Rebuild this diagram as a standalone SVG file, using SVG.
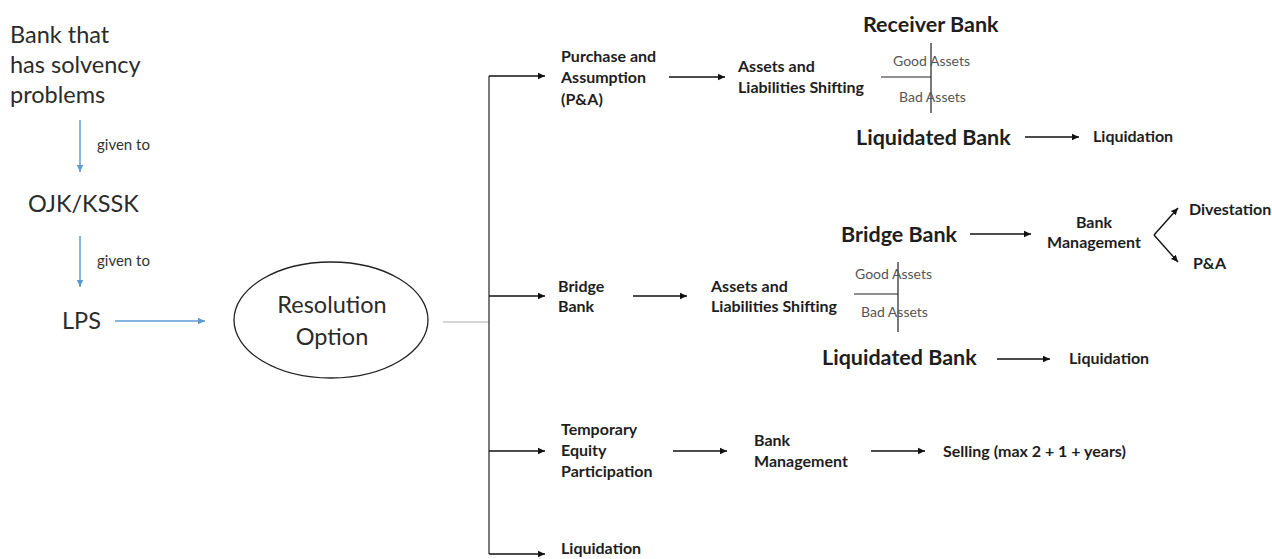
<svg xmlns="http://www.w3.org/2000/svg" width="1272" height="559" viewBox="0 0 1272 559">
<style>
.big{font-family:Lato,"Liberation Sans",sans-serif;font-size:23.5px;fill:#2b2b2b}
.sm{font-family:Lato,"Liberation Sans",sans-serif;font-size:15px;fill:#333}
.b{font-family:Lato,"Liberation Sans",sans-serif;font-size:16px;font-weight:bold;fill:#1e1e1e}
.bb{font-family:Lato,"Liberation Sans",sans-serif;font-size:21.5px;font-weight:bold;fill:#1e1e1e}
.ga{font-family:Lato,"Liberation Sans",sans-serif;font-size:14px;fill:#555}
.ln{stroke:#111;stroke-width:1.4;fill:none}
.bl{stroke:#5b9bd5;stroke-width:1.5;fill:none}
.tl{stroke:#222;stroke-width:1.2;fill:none}
</style>
<defs>
<marker id="ah" markerWidth="8" markerHeight="8" refX="7" refY="4" orient="auto" markerUnits="userSpaceOnUse"><path d="M0,0.8 L7,4 L0,7.2 Z" fill="#111"/></marker>
<marker id="abl" markerWidth="8" markerHeight="8" refX="7" refY="4" orient="auto" markerUnits="userSpaceOnUse"><path d="M0,0.8 L7,4 L0,7.2 Z" fill="#5b9bd5"/></marker>
</defs>
<rect width="1272" height="559" fill="#fff"/>

<g id="bank-problem"><text class="big" x="10" y="43">Bank that</text><text class="big" x="10" y="73">has solvency</text><text class="big" x="10" y="103">problems</text></g>
<g id="ojk"><text class="big" x="28" y="212">OJK/KSSK</text></g>
<g id="lps"><text class="big" x="62" y="329">LPS</text></g>
<g id="resolution"><ellipse cx="331" cy="320" rx="97" ry="58" fill="none" stroke="#222" stroke-width="1.3"/><text class="big" x="332" y="313" text-anchor="middle">Resolution</text><text class="big" x="332" y="345" text-anchor="middle">Option</text></g>

<g id="pa"><text class="b" x="561" y="62">Purchase and</text><text class="b" x="561" y="83">Assumption</text><text class="b" x="561" y="105">(P&amp;A)</text></g>
<g id="als1"><text class="b" x="738" y="72">Assets and</text><text class="b" x="738" y="93">Liabilities Shifting</text></g>
<g id="receiver"><text class="bb" x="863" y="32">Receiver Bank</text></g>
<g id="split1"><line class="tl" x1="881" y1="77" x2="931" y2="77"/><line class="tl" x1="931" y1="43" x2="931" y2="113"/><text class="ga" x="893" y="66">Good Assets</text><text class="ga" x="899" y="102">Bad Assets</text></g>
<g id="liqbank1"><text class="bb" x="856" y="145">Liquidated Bank</text></g>
<g id="liq1"><text class="b" x="1093" y="142">Liquidation</text></g>

<g id="bridge"><text class="b" x="558" y="292">Bridge</text><text class="b" x="558" y="312">Bank</text></g>
<g id="als2"><text class="b" x="711" y="292">Assets and</text><text class="b" x="711" y="312">Liabilities Shifting</text></g>
<g id="bridgebank"><text class="bb" x="841" y="242">Bridge Bank</text></g>
<g id="mgmt1"><text class="b" x="1094" y="228" text-anchor="middle">Bank</text><text class="b" x="1094" y="248" text-anchor="middle">Management</text></g>
<g id="divest"><text class="b" x="1189" y="215">Divestation</text></g>
<g id="pa2"><text class="b" x="1193" y="269">P&amp;A</text></g>
<g id="split2"><line class="tl" x1="854" y1="294" x2="898" y2="294"/><line class="tl" x1="898" y1="262" x2="898" y2="332"/><text class="ga" x="855" y="279">Good Assets</text><text class="ga" x="861" y="317">Bad Assets</text></g>
<g id="liqbank2"><text class="bb" x="822" y="365">Liquidated Bank</text></g>
<g id="liq2"><text class="b" x="1069" y="364">Liquidation</text></g>

<g id="tep"><text class="b" x="561" y="435">Temporary</text><text class="b" x="561" y="456">Equity</text><text class="b" x="561" y="477">Participation</text></g>
<g id="mgmt2"><text class="b" x="754" y="446">Bank</text><text class="b" x="754" y="467">Management</text></g>
<g id="selling"><text class="b" x="943" y="457">Selling (max 2 + 1 + years)</text></g>
<g id="liq3"><text class="b" x="561" y="554">Liquidation</text></g>

<g id="connectors">
<line class="bl" x1="80" y1="120" x2="80" y2="172" marker-end="url(#abl)"/>
<text class="sm" x="97" y="150">given to</text>
<line class="bl" x1="80" y1="236" x2="80" y2="287" marker-end="url(#abl)"/>
<text class="sm" x="97" y="266">given to</text>
<line class="bl" x1="115" y1="321" x2="205" y2="321" marker-end="url(#abl)"/>
<line x1="443" y1="322" x2="489" y2="322" stroke="#aaa" stroke-width="1"/>
<line x1="489" y1="76" x2="489" y2="554" stroke="#444" stroke-width="1.4"/>
<line class="ln" x1="489" y1="76" x2="545" y2="76" marker-end="url(#ah)"/>
<line class="ln" x1="489" y1="296" x2="545" y2="296" marker-end="url(#ah)"/>
<line class="ln" x1="489" y1="451" x2="545" y2="451" marker-end="url(#ah)"/>
<line class="ln" x1="489" y1="554" x2="545" y2="554" marker-end="url(#ah)"/>
<line class="ln" x1="669" y1="77" x2="725" y2="77" marker-end="url(#ah)"/>
<line class="ln" x1="1025" y1="137" x2="1079" y2="137" marker-end="url(#ah)"/>
<line class="ln" x1="633" y1="296" x2="687" y2="296" marker-end="url(#ah)"/>
<line class="ln" x1="970" y1="234" x2="1031" y2="234" marker-end="url(#ah)"/>
<line class="ln" x1="1154" y1="235" x2="1178" y2="208" marker-end="url(#ah)"/>
<line class="ln" x1="1154" y1="235" x2="1178" y2="262" marker-end="url(#ah)"/>
<line class="ln" x1="997" y1="359" x2="1050" y2="359" marker-end="url(#ah)"/>
<line class="ln" x1="673" y1="451" x2="727" y2="451" marker-end="url(#ah)"/>
<line class="ln" x1="871" y1="451" x2="925" y2="451" marker-end="url(#ah)"/>
</g>
</svg>
